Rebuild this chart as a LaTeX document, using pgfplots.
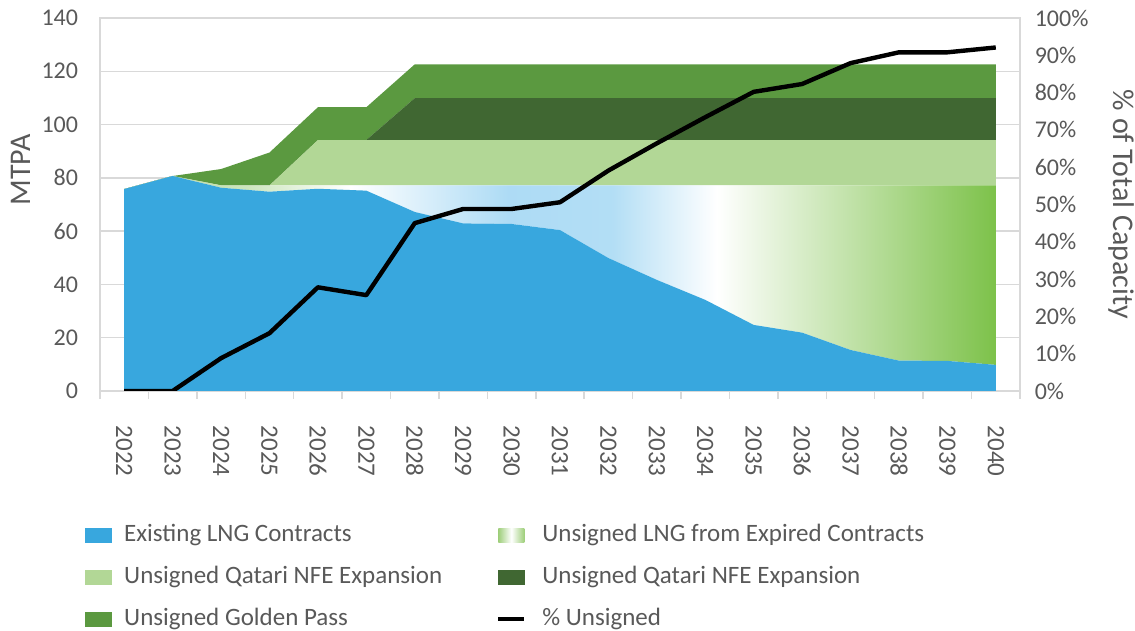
\documentclass[border=0pt]{standalone}
\usepackage{pgfplots}
\usepackage{pgfplotstable}
\pgfplotsset{compat=1.18}
\usepackage{fontspec}
\setmainfont{Carlito}

\definecolor{existing}{RGB}{56,167,222}
\definecolor{qatarlight}{RGB}{178,215,150}
\definecolor{qatardark}{RGB}{64,103,50}
\definecolor{goldenpass}{RGB}{91,153,64}
\definecolor{expgreen}{RGB}{125,194,75}
\definecolor{gridgray}{RGB}{217,217,217}
\definecolor{textgray}{RGB}{89,89,89}

% gradient of the expired-contracts band (25bp..75bp spans the band)
\pgfdeclarehorizontalshading{expired}{100bp}{%
  rgb(0bp)=(0.71,0.85,0.60);
  rgb(25bp)=(0.71,0.85,0.60);
  rgb(32bp)=(0.80,0.90,0.74);
  rgb(38bp)=(1,1,1);
  rgb(47bp)=(0.68,0.86,0.96);
  rgb(53bp)=(0.70,0.87,0.96);
  rgb(59bp)=(1,1,1);
  rgb(75bp)=(0.49,0.76,0.29);
  rgb(100bp)=(0.49,0.76,0.29)}

% small icon version for the legend: green rim, white middle
\pgfdeclarehorizontalshading{expiredicon}{100bp}{%
  rgb(0bp)=(0.62,0.81,0.48);
  rgb(25bp)=(0.62,0.81,0.48);
  rgb(50bp)=(1,1,1);
  rgb(75bp)=(0.62,0.81,0.48);
  rgb(100bp)=(0.62,0.81,0.48)}

% x: 0 = 2022 ... 18 = 2040; MTPA per layer, pct = % unsigned
\pgfplotstableread{
x  existing expired qlight qdark golden pct
0  75.8  0.0  0.0  0.0  0.0   0.0
1  80.7  0.0  0.0  0.0  0.0   0.0
2  76.3  0.9  0.0  0.0  6.1   8.8
3  74.8  2.4  0.0  0.0  12.3  15.5
4  75.9  1.3  17.0 0.0  12.3  27.8
5  75.2  2.0  17.0 0.0  12.3  25.7
6  67.2  10.0 17.0 15.7 12.7  45.0
7  62.9  14.3 17.0 15.7 12.7  48.8
8  62.7  14.5 17.0 15.7 12.7  48.8
9  60.4  16.8 17.0 15.7 12.7  50.6
10 49.9  27.3 17.0 15.7 12.7  59.1
11 41.7  35.5 17.0 15.7 12.7  66.4
12 34.2  43.0 17.0 15.7 12.7  73.4
13 24.8  52.4 17.0 15.7 12.7  80.2
14 21.9  55.3 17.0 15.7 12.7  82.3
15 15.4  61.8 17.0 15.7 12.7  87.9
16 11.4  65.8 17.0 15.7 12.7  90.8
17 11.3  65.9 17.0 15.7 12.7  90.8
18 9.8   67.4 17.0 15.7 12.7  92.1
}\lngdata

\pgfplotsset{
  chartbase/.style={
    at={(50pt,120pt)}, anchor=south west,
    scale only axis, width=460pt, height=186.5pt,
    xmin=-0.5, xmax=18.5,
    /pgf/number format/assume math mode=true,
    tick label style={text=textgray, font=\fontsize{12}{14}\selectfont},
    label style={text=textgray, font=\fontsize{15}{18}\selectfont},
  },
}

\begin{document}
\begin{tikzpicture}
\useasboundingbox (0,0) rectangle (567.5pt,315.5pt);

\begin{axis}[chartbase,
  ymin=0, ymax=140, ytick={0,20,...,140},
  stack plots=y,
  axis line style={gridgray, line width=0.75pt},
  ymajorgrids, grid style={gridgray, line width=0.75pt},
  xtick={0,...,18},
  xticklabels={2022,2023,2024,2025,2026,2027,2028,2029,2030,2031,
               2032,2033,2034,2035,2036,2037,2038,2039,2040},
  minor xtick={-0.5,0.5,...,18.5},
  major x tick style={draw=none},
  major y tick style={draw=none},
  minor x tick style={gridgray, line width=0.75pt},
  minor tick length=4pt,
  tick align=outside,
  xtick pos=bottom, ytick pos=left,
  xticklabel style={rotate=-90, anchor=west, inner sep=0pt,
                    font=\fontsize{12.5}{14}\selectfont},
  xticklabel shift=13pt,
  yticklabel style={anchor=east, inner sep=0pt},
  yticklabel shift=6.5pt,
  ylabel={MTPA},
  ylabel style={at={(axis description cs:-0.0859,0.593)}, anchor=center},
]
\addplot[draw=none, fill=existing] table[x=x,y=existing]{\lngdata} \closedcycle;
\addplot[draw=none, shade, shading=expired, shading angle=0] table[x=x,y=expired]{\lngdata} \closedcycle;
\addplot[draw=none, fill=qatarlight] table[x=x,y=qlight]{\lngdata} \closedcycle;
\addplot[draw=none, fill=qatardark] table[x=x,y=qdark]{\lngdata} \closedcycle;
\addplot[draw=none, fill=goldenpass] table[x=x,y=golden]{\lngdata} \closedcycle;
\end{axis}

\begin{axis}[chartbase,
  ymin=0, ymax=100, ytick={0,10,...,100},
  axis y line*=right, axis x line=none,
  axis line style={draw=none},
  major y tick style={draw=none},
  yticklabel={\pgfmathprintnumber{\tick}\%},
  yticklabel style={anchor=west, inner sep=0pt},
  yticklabel shift=7.2pt,
  ylabel={\% of Total Capacity},
  ylabel style={at={(axis description cs:1.1103,0.5)}, anchor=center, rotate=180},
  legend columns=2, legend cell align=left,
  legend style={at={(axis description cs:-0.0163,-0.353)}, anchor=north west,
    draw=none, fill=none, inner sep=0pt, text=textgray,
    font=\fontsize{12.5}{14}\selectfont, row sep=9pt,
    nodes={inner sep=0pt, text height=9pt, text depth=3pt},
    /tikz/column 1/.style={column sep=6pt},
    /tikz/column 2/.style={column sep=27pt},
    /tikz/column 3/.style={column sep=8pt}},
]
\addlegendimage{legend image code/.code={\fill[existing] (0pt,-3.5pt) rectangle (13pt,3.5pt);}}
\addlegendentry{Existing LNG Contracts}
\addlegendimage{legend image code/.code={\path[draw=none, shade, shading=expiredicon] (0pt,-3.5pt) rectangle (13pt,3.5pt);}}
\addlegendentry{Unsigned LNG from Expired Contracts}
\addlegendimage{legend image code/.code={\fill[qatarlight] (0pt,-3.5pt) rectangle (13pt,3.5pt);}}
\addlegendentry{Unsigned Qatari NFE Expansion}
\addlegendimage{legend image code/.code={\fill[qatardark] (0pt,-3.5pt) rectangle (13pt,3.5pt);}}
\addlegendentry{Unsigned Qatari NFE Expansion}
\addlegendimage{legend image code/.code={\fill[goldenpass] (0pt,-3.5pt) rectangle (13pt,3.5pt);}}
\addlegendentry{Unsigned Golden Pass}
\addplot[black, line width=2.2pt, line join=round,
  legend image code/.code={\draw[black, line width=2pt] (0pt,0pt) -- (13pt,0pt);}]
  table[x=x,y=pct]{\lngdata};
\addlegendentry{\% Unsigned}
\end{axis}
\end{tikzpicture}
\end{document}
